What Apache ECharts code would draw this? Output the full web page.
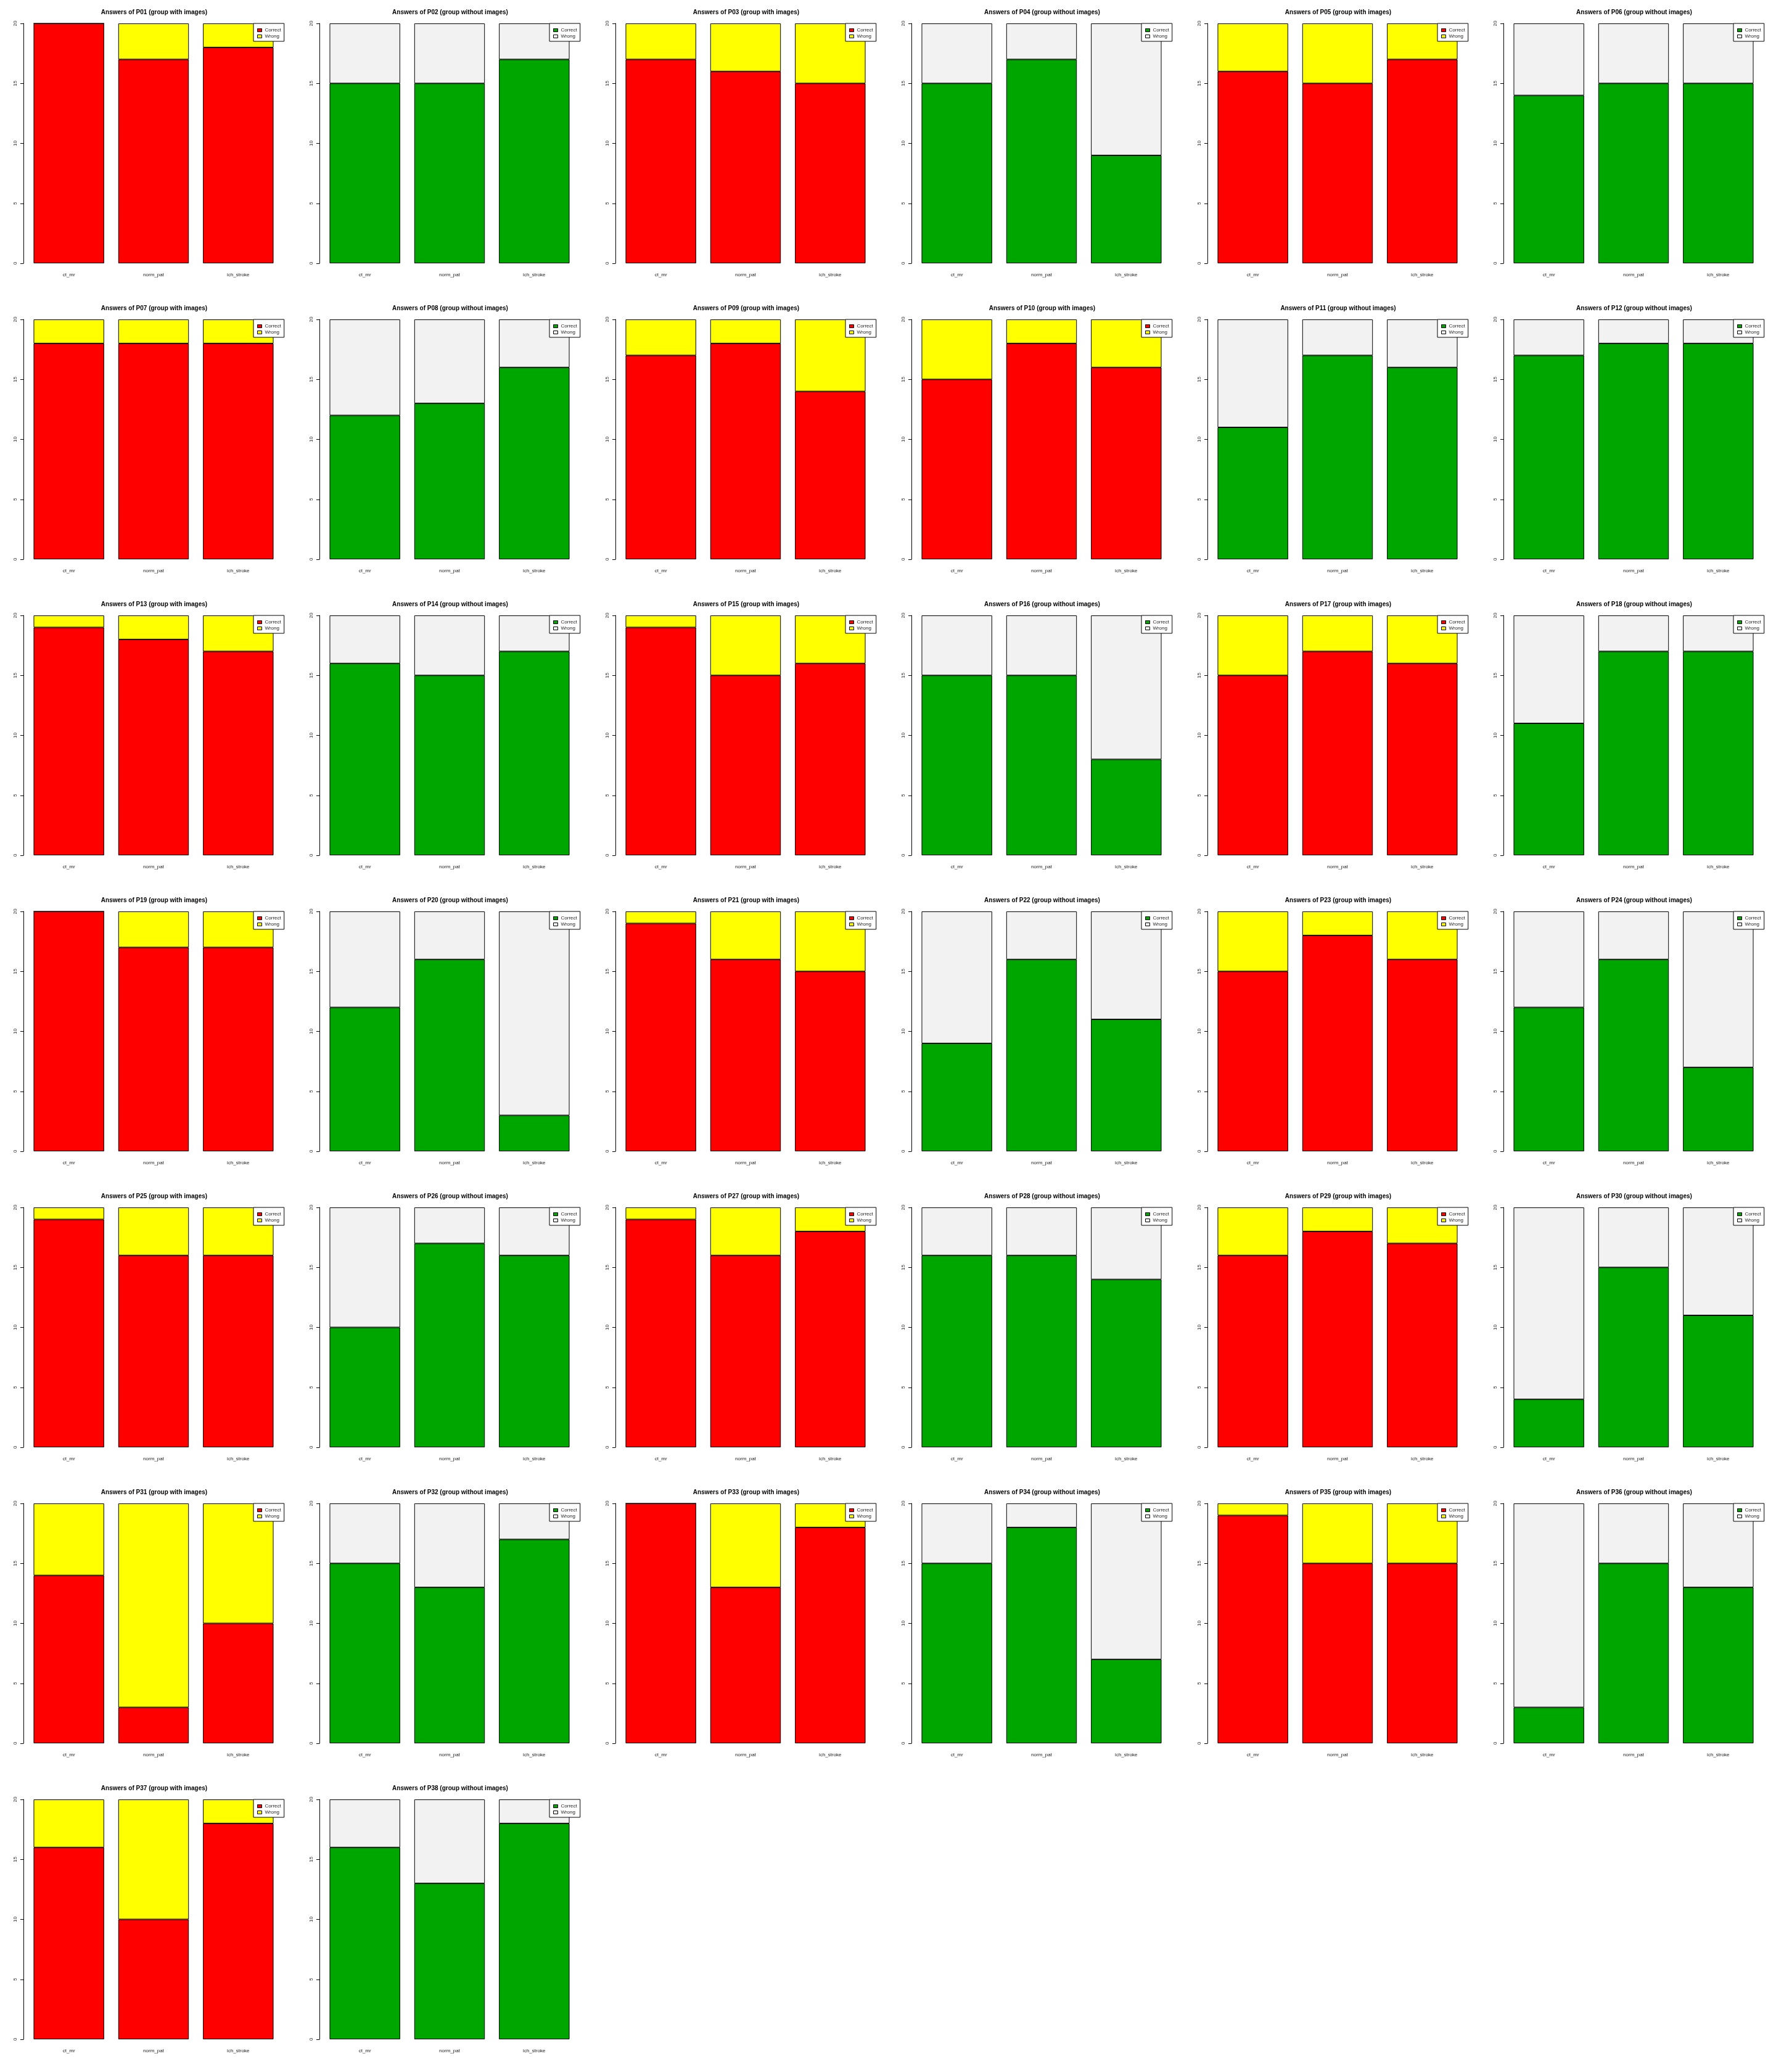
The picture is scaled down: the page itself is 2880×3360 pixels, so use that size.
<!DOCTYPE html>
<html>
<head>
<meta charset="utf-8">
<script src="https://cdn.jsdelivr.net/npm/echarts@6/dist/echarts.min.js"></script>
<style>html,body{margin:0;padding:0;background:#fff;}#c{width:2880px;height:3360px;}</style>
</head>
<body>
<div id="c"></div>
<script>
const panelIds = ['P01','P02','P03','P04','P05','P06','P07','P08','P09','P10','P11','P12','P13','P14','P15','P16','P17','P18','P19','P20','P21','P22','P23','P24','P25','P26','P27','P28','P29','P30','P31','P32','P33','P34','P35','P36','P37','P38'];
const groups = [
  'with','without','with','without','with','without',
  'with','without','with','with','without','without',
  'with','without','with','without','with','without',
  'with','without','with','without','with','without',
  'with','without','with','without','with','without',
  'with','without','with','without','with','without',
  'with','without'
];
const categories = ['ct_mr', 'norm_pat', 'ich_stroke'];
const yTicks = [0, 5, 10, 15, 20];
const correct = [
  [20,17,18],[15,15,17],[17,16,15],[15,17,9],[16,15,17],[14,15,15],
  [18,18,18],[12,13,16],[17,18,14],[15,18,16],[11,17,16],[17,18,18],
  [19,18,17],[16,15,17],[19,15,16],[15,15,8],[15,17,16],[11,17,17],
  [20,17,17],[12,16,3],[19,16,15],[9,16,11],[15,18,16],[12,16,7],
  [19,16,16],[10,17,16],[19,16,18],[16,16,14],[16,18,17],[4,15,11],
  [14,3,10],[15,13,17],[20,13,18],[15,18,7],[19,15,15],[3,15,13],
  [16,10,18],[16,13,18]
];
const wrong = [
  [0,3,2],[5,5,3],[3,4,5],[5,3,11],[4,5,3],[6,5,5],
  [2,2,2],[8,7,4],[3,2,6],[5,2,4],[9,3,4],[3,2,2],
  [1,2,3],[4,5,3],[1,5,4],[5,5,12],[5,3,4],[9,3,3],
  [0,3,3],[8,4,17],[1,4,5],[11,4,9],[5,2,4],[8,4,13],
  [1,4,4],[10,3,4],[1,4,2],[4,4,6],[4,2,3],[16,5,9],
  [6,17,10],[5,7,3],[0,7,2],[5,2,13],[1,5,5],[17,5,7],
  [4,10,2],[4,7,2]
];

const COLS = 6, PW = 480, PH = 480;
const FONT = '"Liberation Sans", Arial, Helvetica, sans-serif';
const colorsWith = ['#FF0000', '#FFFF00'];
const colorsWithout = ['#00A600', '#F2F2F2'];

const grids = [], xAxes = [], yAxes = [], series = [], titles = [], legends = [];
panelIds.forEach((id, i) => {
  const px = (i % COLS) * PW, py = Math.floor(i / COLS) * PH;
  const withImg = (groups[i] === 'with');
  const cols = withImg ? colorsWith : colorsWithout;
  titles.push({
    text: 'Answers of ' + id + ' (group ' + groups[i] + ' images)',
    left: px + 250, top: py + 15, textAlign: 'center', padding: 0,
    textStyle: { fontSize: 10, fontWeight: 'bold', color: '#000', fontFamily: FONT }
  });
  grids.push({ left: px + 43, top: py + 38, width: 412, height: 389, containLabel: false });
  xAxes.push({
    type: 'category', gridIndex: i, data: categories,
    axisLine: { show: false }, axisTick: { show: false },
    axisLabel: { fontSize: 8, color: '#222', margin: 15, fontFamily: FONT, interval: 0 }
  });
  yAxes.push({
    type: 'value', gridIndex: i, min: yTicks[0], max: yTicks[yTicks.length - 1], interval: 5,
    offset: 5,
    axisLine: { show: true, lineStyle: { color: '#000', width: 1 } },
    axisTick: { show: true, length: 5, lineStyle: { color: '#000', width: 1 } },
    splitLine: { show: false },
    axisLabel: { fontSize: 8, color: '#222', rotate: 90, margin: 9, fontFamily: FONT }
  });
  series.push({
    type: 'bar', name: 'Correct', xAxisIndex: i, yAxisIndex: i, stack: 's' + i,
    data: correct[i], barCategoryGap: '16.7%',
    itemStyle: { color: cols[0], borderColor: '#000', borderWidth: 1 }
  });
  series.push({
    type: 'bar', name: 'Wrong', xAxisIndex: i, yAxisIndex: i, stack: 's' + i,
    data: wrong[i], barCategoryGap: '16.7%',
    itemStyle: { color: cols[1], borderColor: '#000', borderWidth: 1 }
  });
  legends.push({
    orient: 'vertical', left: px + 411, top: py + 38,
    padding: [7, 5, 4, 6], itemWidth: 7, itemHeight: 5, itemGap: 2,
    backgroundColor: '#fff', borderColor: '#000', borderWidth: 1, borderRadius: 0,
    selectedMode: false, icon: 'rect',
    textStyle: { fontSize: 8, lineHeight: 8, color: '#222', fontFamily: FONT, padding: [0, 0, 0, 0] },
    itemTextGap: 5,
    itemStyle: { borderColor: '#000', borderWidth: 1 },
    data: [
      { name: 'Correct', itemStyle: { color: cols[0], borderColor: '#000', borderWidth: 1 } },
      { name: 'Wrong', itemStyle: { color: cols[1], borderColor: '#000', borderWidth: 1 } }
    ]
  });
});

const chart = echarts.init(document.getElementById('c'), null, { renderer: 'canvas' });
chart.setOption({
  animation: false,
  backgroundColor: '#fff',
  textStyle: { fontFamily: FONT },
  title: titles, grid: grids, xAxis: xAxes, yAxis: yAxes, legend: legends, series: series
});
</script>
</body>
</html>
